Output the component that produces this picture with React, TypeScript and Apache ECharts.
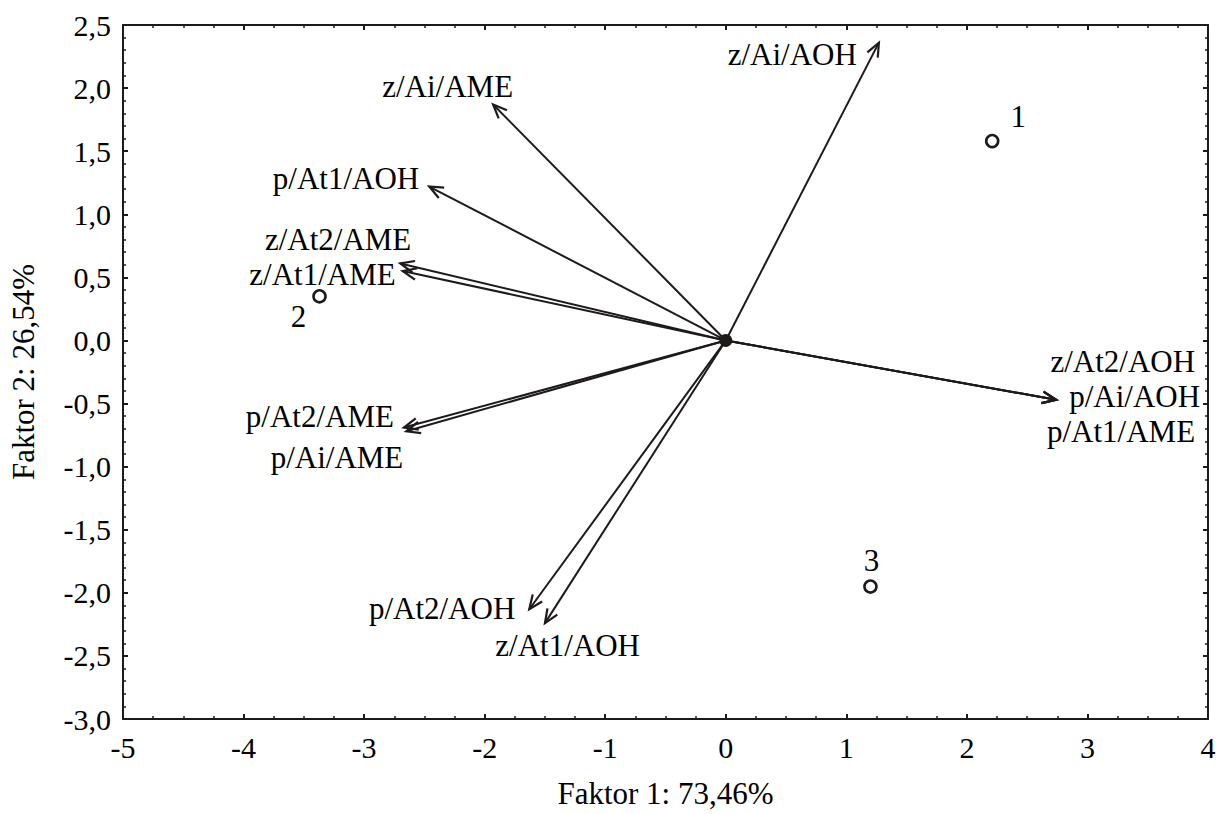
import React, { useEffect, useRef } from "react";
import * as echarts from "echarts";

// ---- data ----
const arrowNames = [
  "z/Ai/AOH",
  "z/Ai/AME",
  "p/At1/AOH",
  "z/At2/AME",
  "z/At1/AME",
  "p/At2/AME",
  "p/Ai/AME",
  "p/At2/AOH",
  "z/At1/AOH",
  "z/At2/AOH",
  "p/Ai/AOH",
  "p/At1/AME",
];
const arrowX = [1.27, -1.93, -2.46, -2.7, -2.68, -2.67, -2.65, -1.63, -1.5, 2.74, 2.74, 2.74];
const arrowY = [2.36, 1.87, 1.22, 0.61, 0.55, -0.69, -0.72, -2.13, -2.24, -0.47, -0.47, -0.47];

const caseNames = ["1", "2", "3"];
const caseX = [2.21, -3.37, 1.2];
const caseY = [1.58, 0.35, -1.95];

const xTicks = { min: -5, max: 4, step: 1 };
const yTicks = { min: -3, max: 2.5, step: 0.5 };
const xTitle = "Faktor 1: 73,46%";
const yTitle = "Faktor 2: 26,54%";

// ---- layout (label offsets in pixels from arrow tips / points) ----
const arrowLabelLayout: [number, number, string][] = [
  [-22, 12, "right"],
  [20, -18, "right"],
  [-10, -8, "right"],
  [11, -24, "right"],
  [-7, 3, "right"],
  [-10, -11, "right"],
  [-3, 26, "right"],
  [-14, -1, "right"],
  [95, 22, "right"],
  [139, -38, "right"],
  [144, -3, "right"],
  [139, 32, "right"],
];
const caseLabelLayout: [number, number][] = [
  [26, -25],
  [-21, 20],
  [1, -26],
];

const INK = "#1e1a1a";
const FONT = "Liberation Serif";
const FS = 31;
const TICK_FS = 30;

export default function App() {
  const ref = useRef<HTMLDivElement>(null);
  useEffect(() => {
    if (!ref.current) return;
    const chart = echarts.init(ref.current, null, { renderer: "svg" });

    const arrowData = arrowNames.map((n, i) => [arrowX[i], arrowY[i], i]);
    const caseData = caseNames.map((n, i) => ({
      value: [caseX[i], caseY[i]],
      name: n,
      label: { offset: caseLabelLayout[i] },
    }));

    const axisCommonX = {
      type: "value" as const,
      min: xTicks.min,
      max: xTicks.max,
      interval: xTicks.step,
      splitLine: { show: false },
      axisLine: { show: true, onZero: false, lineStyle: { color: INK, width: 2 } },
      axisTick: { show: true, inside: true, length: 5, lineStyle: { color: INK, width: 2 } },
      minorTick: { show: true, splitNumber: 4, length: 3, lineStyle: { color: INK, width: 1.5 } },
    };
    const axisCommonY = {
      type: "value" as const,
      min: yTicks.min,
      max: yTicks.max,
      interval: yTicks.step,
      splitLine: { show: false },
      axisLine: { show: true, onZero: false, lineStyle: { color: INK, width: 2 } },
      axisTick: { show: true, inside: true, length: 5, lineStyle: { color: INK, width: 2 } },
      minorTick: { show: true, splitNumber: 5, length: 3, lineStyle: { color: INK, width: 1.5 } },
    };

    chart.setOption({
      animation: false,
      backgroundColor: "#ffffff",
      grid: { left: 122, top: 25, width: 1086, height: 695, containLabel: false },
      xAxis: [
        {
          ...axisCommonX,
          position: "bottom",
          name: xTitle,
          nameLocation: "middle",
          nameGap: 59,
          nameTextStyle: { fontFamily: FONT, fontSize: FS, color: "#000" },
          axisLabel: {
            fontFamily: FONT,
            fontSize: TICK_FS,
            color: "#000",
            margin: 13,
            formatter: (v: number) => String(v),
          },
        },
        {
          ...axisCommonX,
          position: "top",
          axisLabel: { show: false },
        },
      ],
      yAxis: [
        {
          ...axisCommonY,
          position: "left",
          name: yTitle,
          nameLocation: "middle",
          nameGap: 84,
          nameTextStyle: { fontFamily: FONT, fontSize: FS, color: "#000" },
          axisLabel: {
            fontFamily: FONT,
            fontSize: TICK_FS,
            color: "#000",
            margin: 12,
            formatter: (v: number) => v.toFixed(1).replace(".", ","),
          },
        },
        {
          ...axisCommonY,
          position: "right",
          axisLabel: { show: false },
        },
      ],
      series: [
        {
          type: "custom",
          xAxisIndex: 0,
          yAxisIndex: 0,
          data: arrowData,
          clip: false,
          renderItem: (params: any, api: any) => {
            const x = api.value(0);
            const y = api.value(1);
            const i = api.value(2);
            const o = api.coord([0, 0]);
            const t = api.coord([x, y]);
            const ang = Math.atan2(t[1] - o[1], t[0] - o[0]);
            const L = 15;
            const a = 0.4;
            const p1 = [t[0] - L * Math.cos(ang - a), t[1] - L * Math.sin(ang - a)];
            const p2 = [t[0] - L * Math.cos(ang + a), t[1] - L * Math.sin(ang + a)];
            const lay = arrowLabelLayout[i];
            return {
              type: "group",
              children: [
                {
                  type: "line",
                  shape: { x1: o[0], y1: o[1], x2: t[0], y2: t[1] },
                  style: { stroke: INK, lineWidth: 2 },
                },
                {
                  type: "polyline",
                  shape: { points: [p1, t, p2] },
                  style: { stroke: INK, lineWidth: 2.2, fill: null },
                },
                {
                  type: "text",
                  x: t[0] + lay[0],
                  y: t[1] + lay[1],
                  style: {
                    text: arrowNames[i],
                    font: `${FS}px '${FONT}'`,
                    fill: "#000",
                    align: lay[2],
                    verticalAlign: "middle",
                  },
                },
              ],
            };
          },
        },
        {
          type: "scatter",
          data: [[0, 0]],
          symbol: "circle",
          symbolSize: 13,
          itemStyle: { color: INK, opacity: 1 },
          silent: true,
        },
        {
          type: "scatter",
          data: caseData,
          symbol: "circle",
          symbolSize: 12,
          itemStyle: { color: "#fff", borderColor: INK, borderWidth: 2.6, opacity: 1 },
          label: {
            show: true,
            position: "inside",
            formatter: (p: any) => p.name,
            fontFamily: FONT,
            fontSize: FS,
            color: "#000",
          },
        },
      ],
    });
    return () => chart.dispose();
  }, []);

  return (
    <div
      ref={ref}
      style={{ position: "absolute", left: 0, top: 0, width: 1227, height: 814 }}
    />
  );
}
